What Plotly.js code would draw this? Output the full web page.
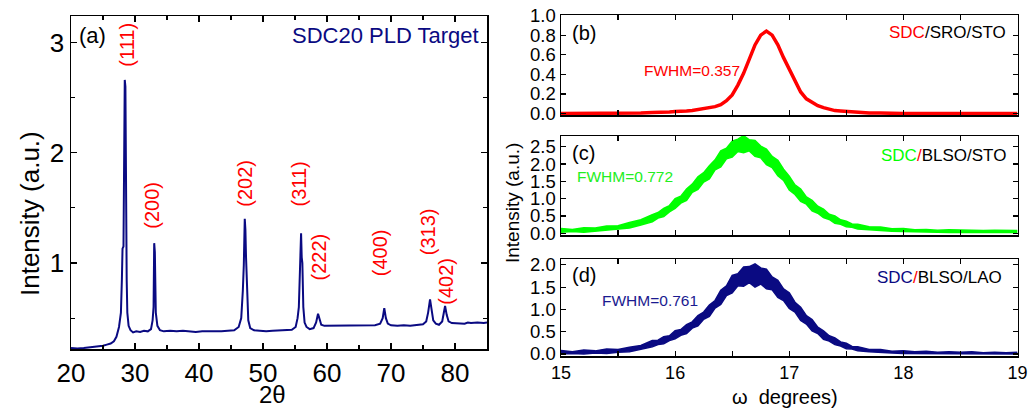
<!DOCTYPE html>
<html>
<head>
<meta charset="utf-8">
<script src="https://cdn.plot.ly/plotly-3.0.1.min.js"></script>
<style>html,body{margin:0;padding:0;background:#fff;}#chart{width:1028px;height:410px;}</style>
</head>
<body>
<div id="chart"></div>
<script>
// ---- Panel (a): XRD pattern of SDC20 PLD target ----
const xrdTwoTheta = [20.0,21.0,22.0,23.0,24.0,25.0,25.6,26.2,26.7,27.1,27.5,27.8,27.95,28.05,28.2,28.3,28.4,28.5,28.6,28.7,28.8,29.0,29.3,29.7,30.2,30.8,31.4,32.0,32.5,32.75,32.9,33.0,33.1,33.25,33.5,33.9,34.5,35.5,36.5,37.5,38.5,39.5,40.5,41.5,42.5,43.5,44.5,45.5,46.2,46.6,46.85,47.0,47.15,47.25,47.35,47.5,47.7,48.0,48.6,49.5,50.5,51.5,52.5,53.5,54.5,55.1,55.4,55.6,55.8,55.95,56.05,56.15,56.3,56.5,56.8,57.3,57.9,58.3,58.6,58.8,59.1,59.6,60.5,61.5,62.5,63.5,64.5,65.5,66.5,67.5,68.3,68.7,68.95,69.2,69.5,70.0,71.0,72.0,73.0,74.0,75.0,75.5,75.8,76.1,76.3,76.6,77.0,77.5,78.0,78.45,78.7,79.0,79.5,80.5,81.5,82.0,82.5,83.5,84.5,85.0];
const xrdIntensity = [0.23,0.225,0.23,0.235,0.24,0.25,0.26,0.27,0.29,0.33,0.42,0.55,0.85,1.13,1.15,2.2,2.66,2.6,1.2,0.85,0.55,0.43,0.39,0.37,0.38,0.375,0.385,0.38,0.4,0.48,0.6,1.18,1.1,0.55,0.43,0.39,0.38,0.385,0.38,0.385,0.38,0.375,0.38,0.38,0.375,0.38,0.385,0.39,0.42,0.5,0.75,0.98,1.4,1.3,1.05,0.7,0.48,0.41,0.39,0.385,0.38,0.385,0.39,0.39,0.395,0.42,0.5,0.6,0.95,1.27,1.05,1.0,0.6,0.46,0.42,0.4,0.41,0.46,0.54,0.5,0.44,0.43,0.43,0.435,0.43,0.435,0.43,0.435,0.43,0.435,0.45,0.5,0.59,0.5,0.45,0.435,0.43,0.435,0.43,0.44,0.445,0.47,0.55,0.67,0.6,0.48,0.45,0.44,0.47,0.61,0.53,0.47,0.455,0.455,0.45,0.46,0.455,0.46,0.455,0.46];
const hklLabels = ['(111)','(200)','(202)','(311)','(222)','(400)','(313)','(402)'];

// ---- Panels (b)-(d): rocking curves ----
const omega = [15.0,15.1,15.2,15.3,15.4,15.5,15.6,15.7,15.8,15.85,15.9,15.95,16.0,16.05,16.1,16.15,16.2,16.25,16.3,16.35,16.4,16.45,16.5,16.55,16.6,16.65,16.7,16.75,16.8,16.85,16.9,16.95,17.0,17.05,17.1,17.15,17.2,17.25,17.3,17.35,17.4,17.45,17.5,17.55,17.6,17.7,17.8,17.9,18.0,18.1,18.2,18.3,18.4,18.5,18.6,18.7,18.8,18.9,19.0];
const sroSto = [0,0,0,0,0.005,0,0.005,0.005,0.01,0.01,0.01,0.015,0.02,0.02,0.025,0.03,0.04,0.05,0.06,0.07,0.09,0.13,0.19,0.29,0.41,0.56,0.7,0.8,0.84,0.8,0.7,0.57,0.45,0.33,0.22,0.15,0.11,0.08,0.06,0.045,0.03,0.025,0.02,0.015,0.01,0.005,0.005,0,0,0,0,0,0,0,0,0,0,0,0];
const blsoStoUpper = [0.14,0.11,0.16,0.15,0.21,0.22,0.31,0.39,0.54,0.6,0.72,0.8,1.0,1.07,1.28,1.42,1.63,1.75,1.95,2.12,2.38,2.46,2.66,2.72,2.82,2.7,2.68,2.52,2.43,2.22,2.11,1.85,1.65,1.4,1.28,1.05,0.95,0.78,0.7,0.55,0.5,0.39,0.35,0.27,0.26,0.19,0.18,0.13,0.14,0.1,0.11,0.09,0.1,0.09,0.1,0.08,0.09,0.08,0.08];
const blsoStoLower = [0.03,0.05,0.03,0.06,0.07,0.12,0.15,0.24,0.33,0.44,0.48,0.62,0.72,0.87,0.95,1.18,1.27,1.48,1.57,1.83,1.92,2.15,2.2,2.36,2.33,2.38,2.22,2.18,1.98,1.9,1.66,1.53,1.25,1.12,0.92,0.84,0.65,0.58,0.45,0.4,0.29,0.26,0.19,0.17,0.12,0.1,0.07,0.06,0.05,0.04,0.03,0.03,0.02,0.03,0.02,0.02,0.02,0.02,0.02];
const blsoLaoUpper = [0.08,0.05,0.09,0.07,0.11,0.1,0.15,0.19,0.3,0.31,0.39,0.41,0.52,0.55,0.66,0.72,0.86,0.94,1.1,1.2,1.43,1.53,1.76,1.8,1.95,1.96,2.02,1.93,1.9,1.73,1.65,1.46,1.37,1.16,1.05,0.86,0.77,0.6,0.52,0.41,0.36,0.27,0.24,0.17,0.16,0.1,0.1,0.06,0.07,0.05,0.06,0.04,0.05,0.04,0.05,0.03,0.04,0.03,0.04];
const blsoLaoLower = [0,0.01,0,0.02,0.01,0.04,0.05,0.11,0.16,0.21,0.23,0.3,0.34,0.42,0.46,0.58,0.63,0.78,0.84,1.03,1.11,1.31,1.37,1.53,1.52,1.6,1.5,1.57,1.46,1.44,1.27,1.2,1.02,0.94,0.75,0.67,0.52,0.46,0.33,0.29,0.21,0.18,0.12,0.11,0.07,0.05,0.03,0.02,0.01,0.01,0.01,0,0,0,0,0,0,0,0];

const FONT = 'Liberation Sans, Arial, sans-serif';
const NAVY = '#0a0a82', RED = '#ff0000', GREEN = '#00ff00';
const W = 1028, H = 410;
const px = v => v / W, py = v => 1 - v / H;

const traces = [
  {x: xrdTwoTheta, y: xrdIntensity, xaxis: 'x', yaxis: 'y', mode: 'lines', line: {color: NAVY, width: 2}, hoverinfo: 'skip'},
  {x: omega, y: sroSto, xaxis: 'x2', yaxis: 'y2', mode: 'lines', line: {color: RED, width: 3.5}, hoverinfo: 'skip'},
  {x: omega, y: blsoStoLower, xaxis: 'x3', yaxis: 'y3', mode: 'lines', line: {color: GREEN, width: 1.5}, hoverinfo: 'skip'},
  {x: omega, y: blsoStoUpper, xaxis: 'x3', yaxis: 'y3', mode: 'lines', fill: 'tonexty', fillcolor: GREEN, line: {color: GREEN, width: 1.5}, hoverinfo: 'skip'},
  {x: omega, y: blsoLaoLower, xaxis: 'x4', yaxis: 'y4', mode: 'lines', line: {color: NAVY, width: 1.5}, hoverinfo: 'skip'},
  {x: omega, y: blsoLaoUpper, xaxis: 'x4', yaxis: 'y4', mode: 'lines', fill: 'tonexty', fillcolor: NAVY, line: {color: NAVY, width: 1.5}, hoverinfo: 'skip'}
];

function axisBase(extra) {
  return Object.assign({
    showline: true, linecolor: '#000', linewidth: 1.5, mirror: 'allticks',
    ticks: 'inside', ticklen: 6, tickwidth: 1.2, tickcolor: '#000',
    showgrid: false, zeroline: false, fixedrange: true,
    tickfont: {family: FONT, size: 18.5, color: '#000'}
  }, extra);
}

const rightDom = [px(561), px(1017.5)];
const layout = {
  width: W, height: H,
  margin: {l: 0, r: 0, t: 0, b: 0},
  paper_bgcolor: '#fff', plot_bgcolor: '#fff',
  showlegend: false,
  xaxis: axisBase({domain: [px(71), px(487)], anchor: 'y', range: [20, 85], dtick: 10, tick0: 20,
    minor: {dtick: 5, ticklen: 4, ticks: 'inside', tickcolor: '#000'},
    tickfont: {family: FONT, size: 26, color: '#000'}}),
  yaxis: axisBase({domain: [py(349), py(16)], anchor: 'x', range: [0.22, 3.24], dtick: 1, tick0: 0,
    minor: {dtick: 0.5, ticklen: 4, ticks: 'inside', tickcolor: '#000'},
    tickfont: {family: FONT, size: 26, color: '#000'}}),
  xaxis2: axisBase({domain: rightDom, anchor: 'y2', range: [15, 19], dtick: 1, showticklabels: false,
    ticklen: 5, minor: {dtick: 0.5, ticklen: 5, ticks: 'inside', tickcolor: '#000'}}),
  yaxis2: axisBase({domain: [py(115), py(15)], anchor: 'x2', range: [-0.015, 1.005], dtick: 0.2, tick0: 0, tickformat: '.1f', ticklen: 5}),
  xaxis3: axisBase({domain: rightDom, anchor: 'y3', range: [15, 19], dtick: 1, showticklabels: false,
    ticklen: 5, minor: {dtick: 0.5, ticklen: 5, ticks: 'inside', tickcolor: '#000'}}),
  yaxis3: axisBase({domain: [py(235), py(136)], anchor: 'x3', range: [-0.05, 2.81], dtick: 0.5, tick0: 0, tickformat: '.1f', ticklen: 5}),
  xaxis4: axisBase({domain: rightDom, anchor: 'y4', range: [15, 19], dtick: 1, tick0: 15,
    ticklen: 5, minor: {dtick: 0.5, ticklen: 5, ticks: 'inside', tickcolor: '#000'},
    tickfont: {family: FONT, size: 18, color: '#000'}}),
  yaxis4: axisBase({domain: [py(356), py(259)], anchor: 'x4', range: [-0.045, 2.13], dtick: 0.5, tick0: 0, tickformat: '.1f', ticklen: 5}),
  annotations: []
};

// hkl labels on panel (a)
const hklPos = [[28.75, 2.98], [32.66, 1.52], [47.2, 1.72], [55.6, 1.72], [58.75, 1.05], [68.3, 1.09], [75.8, 1.28], [78.6, 0.83]];
hklLabels.forEach((t, i) => {
  layout.annotations.push({text: t, x: hklPos[i][0], y: hklPos[i][1], xref: 'x', yref: 'y', textangle: -90,
    showarrow: false, font: {family: FONT, size: 20, color: RED}, xanchor: 'center', yanchor: 'middle'});
});

function paperText(text, x, y, size, color, xanchor, extra) {
  layout.annotations.push(Object.assign({text: text, x: px(x), y: py(y), xref: 'paper', yref: 'paper',
    showarrow: false, font: {family: FONT, size: size, color: color}, xanchor: xanchor || 'center', yanchor: 'middle'}, extra || {}));
}

paperText('(a)', 77, 36, 22, '#000', 'left');
paperText('SDC20 PLD Target', 481, 36, 22, NAVY, 'right');
paperText('Intensity (a.u.)', 30, 214, 26, '#000', 'center', {textangle: -90});
paperText('2θ', 272, 394, 24, '#000', 'center');

paperText('(b)', 570, 33, 20, '#000', 'left');
paperText('<span style="color:#ff0000">SDC</span>/SRO/STO', 1008, 33, 17, '#000', 'right');
paperText('FWHM=0.357', 692, 70, 15.5, RED, 'center');

paperText('(c)', 570, 153, 20, '#000', 'left');
paperText('<span style="color:#00ff00">SDC</span><span style="color:#ff0000">/</span>BLSO/STO', 1008, 155, 17, '#000', 'right');
paperText('FWHM=0.772', 625, 177, 15.5, '#22ee22', 'center');

paperText('(d)', 570, 275, 20, '#000', 'left');
paperText('<span style="color:#0a0a82">SDC</span><span style="color:#ff0000">/</span>BLSO/LAO', 1004, 277, 17, '#000', 'right');
paperText('FWHM=0.761', 650, 300, 15.5, '#1a1a90', 'center');

paperText('Intensity (a.u.)', 512, 203, 19, '#000', 'center', {textangle: -90});
paperText('ω  degrees)', 785, 397, 20, '#000', 'center');

Plotly.newPlot('chart', traces, layout, {staticPlot: true, displayModeBar: false});
</script>
</body>
</html>
